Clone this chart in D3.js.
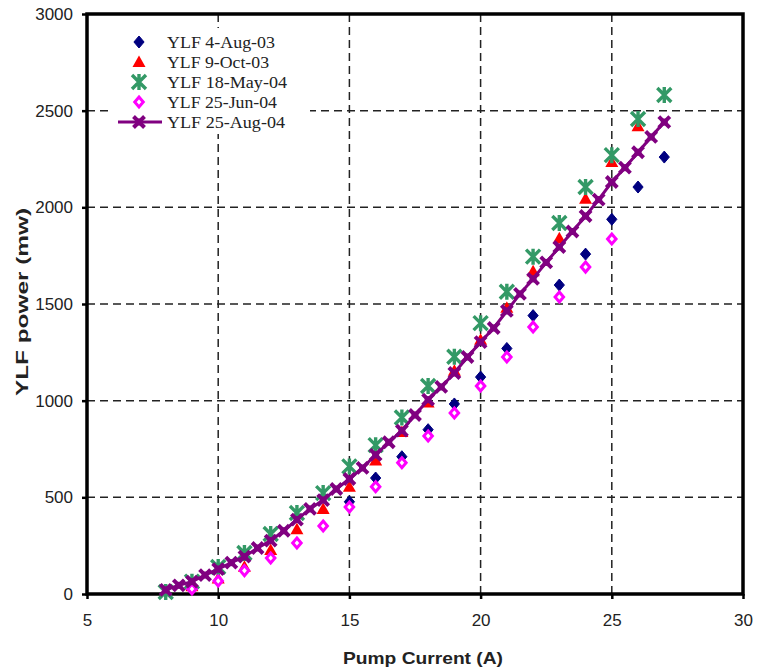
<!DOCTYPE html>
<html><head><meta charset="utf-8">
<script src="https://cdn.jsdelivr.net/npm/d3@7/dist/d3.min.js"></script>
<style>body{margin:0;background:#fff}svg{display:block}</style>
</head><body>
<script>
const xTicks = [5,10,15,20,25,30];
const yTicks = [0,500,1000,1500,2000,2500,3000];
const seriesNames = ["YLF 4-Aug-03","YLF 9-Oct-03","YLF 18-May-04","YLF 25-Jun-04","YLF 25-Aug-04"];

const augX = [15,16,17,18,19,20,21,22,23,24,25,26,27];
const augY = [477,600,710,850,983,1122,1270,1440,1598,1758,1938,2105,2260];

const octX = [9,10,11,12,13,14,15,16,17,18,19,20,21,22,23,24,25,26];
const octY = [40,80,141,228,335,440,555,690,838,990,1155,1315,1480,1670,1840,2045,2235,2420];

const mayX = [8,9,10,11,12,13,14,15,16,17,18,19,20,21,22,23,24,25,26,27];
const mayY = [10,64,140,212,310,419,522,660,770,913,1076,1227,1401,1563,1745,1919,2105,2270,2457,2581];

const junX = [9,10,11,12,13,14,15,16,17,18,19,20,21,22,23,24,25];
const junY = [26,67,121,186,264,352,450,555,679,817,936,1076,1226,1381,1536,1691,1836];

const aug04X = [8,8.5,9,9.5,10,10.5,11,11.5,12,12.5,13,13.5,14,14.5,15,15.5,16,16.5,17,17.5,18,18.5,19,19.5,20,20.5,21,21.5,22,22.5,23,23.5,24,24.5,25,25.5,26,26.5,27];
const aug04Y = [21,45,64,98,129,162,193,238,276,327,385,440,486,543,595,652,720,785,845,926,1005,1071,1143,1226,1303,1376,1464,1552,1630,1715,1795,1875,1955,2040,2131,2205,2285,2364,2441];

const W = 757, H = 672;
const L = 87, R = 743, T = 14, B = 594;
const svg = d3.select("body").append("svg").attr("width", W).attr("height", H);
const x = d3.scaleLinear().domain([5,30]).range([L,R]);
const y = d3.scaleLinear().domain([0,3000]).range([B,T]);
const SANS = "Liberation Sans, Arial, sans-serif";

// gridlines
const g = svg.append("g");
g.selectAll(".vg").data(xTicks.filter(d=>d>5&&d<30)).enter().append("line")
  .attr("x1",d=>x(d)).attr("x2",d=>x(d)).attr("y1",T).attr("y2",B)
  .attr("stroke","#222").attr("stroke-width",1.5).attr("stroke-dasharray","8,5");
g.selectAll(".hg").data(yTicks.filter(d=>d>0&&d<3000)).enter().append("line")
  .attr("y1",d=>y(d)).attr("y2",d=>y(d)).attr("x1",L).attr("x2",R)
  .attr("stroke","#222").attr("stroke-width",1.5).attr("stroke-dasharray","8,5");

// axes
const xAxis = d3.axisBottom(x).tickValues(xTicks).tickFormat(d3.format("d")).tickSize(5).tickPadding(15);
const yAxis = d3.axisLeft(y).tickValues(yTicks).tickFormat(d3.format("d")).tickSize(5).tickPadding(9);
const gx = svg.append("g").attr("transform",`translate(0,${B})`).call(xAxis);
const gy = svg.append("g").attr("transform",`translate(${L},0)`).call(yAxis);
[gx,gy].forEach(a=>{
  a.select(".domain").remove();
  a.selectAll(".tick line").attr("stroke","#000").attr("stroke-width",2.5);
  a.selectAll(".tick text").attr("font-family",SANS).attr("font-size",17).attr("fill","#222");
});
// frame
svg.append("rect").attr("x",L).attr("y",T).attr("width",R-L).attr("height",B-T)
  .attr("fill","none").attr("stroke","#000").attr("stroke-width",3.5);

// axis titles
svg.append("text").attr("x",423).attr("y",664).attr("text-anchor","middle")
  .attr("font-family",SANS).attr("font-weight","bold").attr("font-size",17).attr("fill","#222")
  .attr("textLength",160).attr("lengthAdjust","spacingAndGlyphs")
  .text("Pump Current (A)");
svg.append("text").attr("transform",`translate(28,302) rotate(-90)`).attr("text-anchor","middle")
  .attr("font-family",SANS).attr("font-weight","bold").attr("font-size",17).attr("fill","#222")
  .attr("textLength",188).attr("lengthAdjust","spacingAndGlyphs")
  .text("YLF power (mw)");

// marker drawers
function diamond(sel, cx, cy, fill, stroke, sw, r){
  sel.append("path").attr("d",`M${cx},${cy-r}L${cx+r*0.85},${cy}L${cx},${cy+r}L${cx-r*0.85},${cy}Z`)
    .attr("fill",fill).attr("stroke",stroke).attr("stroke-width",sw);
}
function triangle(sel, cx, cy, col){
  sel.append("path").attr("d",`M${cx},${cy-6.5}L${cx+6.5},${cy+5}L${cx-6.5},${cy+5}Z`).attr("fill",col);
}
function star(sel, cx, cy, col){
  const r=7;
  sel.append("path").attr("d",`M${cx-r},${cy-r}L${cx+r},${cy+r}M${cx+r},${cy-r}L${cx-r},${cy+r}M${cx},${cy-r-1}L${cx},${cy+r+1}`)
    .attr("stroke",col).attr("stroke-width",3.4).attr("fill","none");
}
function xmark(sel, cx, cy, col){
  const r=5.5;
  sel.append("path").attr("d",`M${cx-r},${cy-r}L${cx+r},${cy+r}M${cx+r},${cy-r}L${cx-r},${cy+r}`)
    .attr("stroke",col).attr("stroke-width",4).attr("fill","none");
  sel.append("rect").attr("x",cx-3.5).attr("y",cy-3.5).attr("width",7).attr("height",7).attr("fill",col);
}

const m = svg.append("g");
augX.forEach((d,i)=>diamond(m, x(d), y(augY[i]), "#000080", "#000080", 1, 6));
octX.forEach((d,i)=>triangle(m, x(d), y(octY[i]), "#FF0000"));
mayX.forEach((d,i)=>star(m, x(d), y(mayY[i]), "#339966"));
junX.forEach((d,i)=>diamond(m, x(d), y(junY[i]), "#fff", "#FF00FF", 3, 5));
m.append("path").datum(aug04X.map((d,i)=>[d,aug04Y[i]]))
  .attr("d", d3.line().x(d=>x(d[0])).y(d=>y(d[1])))
  .attr("fill","none").attr("stroke","#800080").attr("stroke-width",3);
aug04X.forEach((d,i)=>xmark(m, x(d), y(aug04Y[i]), "#800080"));

// legend
const lg = svg.append("g");
lg.append("rect").attr("x",112).attr("y",28).attr("width",198).attr("height",106).attr("fill","#fff");
const ly = [42,62,82,102,122];
const lw = [108,102,120,110,118];
const lx = 139;
diamond(lg, lx, ly[0], "#000080", "#000080", 1, 6);
triangle(lg, lx, ly[1], "#FF0000");
star(lg, lx, ly[2], "#339966");
diamond(lg, lx, ly[3], "#fff", "#FF00FF", 3, 5);
lg.append("line").attr("x1",118).attr("x2",162).attr("y1",ly[4]).attr("y2",ly[4]).attr("stroke","#800080").attr("stroke-width",3);
xmark(lg, lx, ly[4], "#800080");
lg.selectAll(".lt").data(seriesNames).enter().append("text")
  .attr("x",167).attr("y",(d,i)=>ly[i]+6)
  .attr("font-family","Liberation Serif, Times New Roman, serif").attr("font-size",17).attr("fill","#222")
  .attr("textLength",(d,i)=>lw[i]).attr("lengthAdjust","spacingAndGlyphs")
  .text(d=>d);
</script>
</body></html>
